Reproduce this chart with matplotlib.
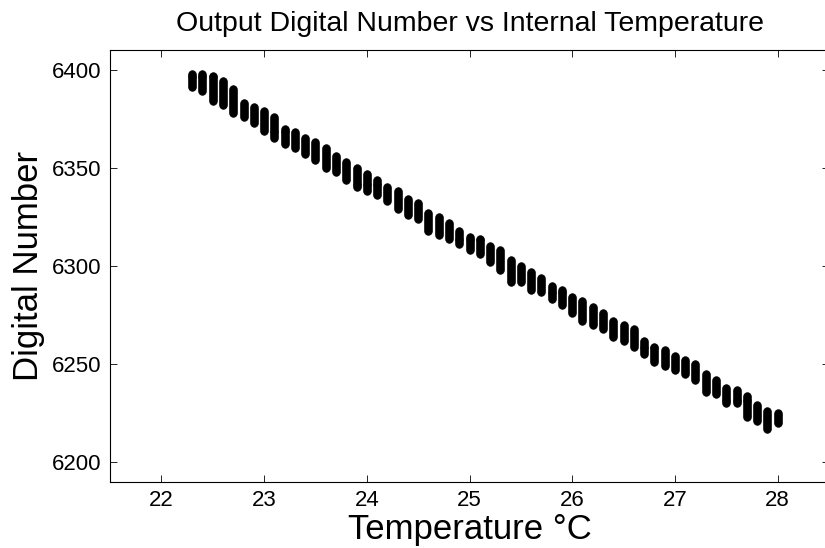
import numpy as np
import matplotlib.pyplot as plt

plt.rcParams['font.family'] = ['Liberation Sans', 'DejaVu Sans']

# temperature steps (deg C) and the range of digital numbers seen at each
temps = [22.3, 22.4, 22.5, 22.6, 22.7, 22.8, 22.9, 23.0, 23.1, 23.2,
         23.3, 23.4, 23.5, 23.6, 23.7, 23.8, 23.9, 24.0, 24.1, 24.2,
         24.3, 24.4, 24.5, 24.6, 24.7, 24.8, 24.9, 25.0, 25.1, 25.2,
         25.3, 25.4, 25.5, 25.6, 25.7, 25.8, 25.9, 26.0, 26.1, 26.2,
         26.3, 26.4, 26.5, 26.6, 26.7, 26.8, 26.9, 27.0, 27.1, 27.2,
         27.3, 27.4, 27.5, 27.6, 27.7, 27.8, 27.9, 28.0]
dn_low = [6391, 6389, 6384, 6382, 6378, 6376, 6373, 6369, 6365, 6362,
          6360, 6357, 6354, 6350, 6348, 6344, 6340, 6338, 6336, 6333,
          6329, 6326, 6324, 6318, 6316, 6314, 6311, 6308, 6306, 6302,
          6298, 6292, 6292, 6288, 6287, 6283, 6280, 6276, 6272, 6270,
          6268, 6264, 6262, 6259, 6255, 6251, 6249, 6247, 6245, 6242,
          6236, 6235, 6230, 6230, 6223, 6221, 6217, 6220]
dn_high = [6398, 6398, 6397, 6394, 6390, 6383, 6381, 6379, 6376, 6370,
           6368, 6365, 6363, 6360, 6356, 6353, 6350, 6347, 6344, 6340,
           6338, 6334, 6332, 6327, 6325, 6322, 6318, 6315, 6314, 6310,
           6308, 6303, 6300, 6297, 6294, 6290, 6288, 6284, 6282, 6279,
           6276, 6272, 6270, 6268, 6262, 6259, 6257, 6254, 6252, 6250,
           6245, 6242, 6238, 6237, 6234, 6229, 6226, 6225]

# one point per integer reading inside each range
xs, ys = [], []
for t, lo, hi in zip(temps, dn_low, dn_high):
    for d in range(lo, hi + 1):
        xs.append(t)
        ys.append(d)

fig = plt.figure(figsize=(8.25, 5.48), dpi=100)
# right edge of the axes sits just past the figure, like the original
ax = fig.add_axes((110/825, 66/548, 719/825, 432/548))

ax.plot(xs, ys, linestyle='none', marker='o', markersize=5.4,
        markerfacecolor='black', markeredgecolor='black', markeredgewidth=0.6)

ax.set_xlim(21.5, 28.5)
ax.set_ylim(6190, 6410)
ax.set_xticks([22, 23, 24, 25, 26, 27, 28])
ax.set_yticks([6200, 6250, 6300, 6350, 6400])

ax.tick_params(direction='in', length=5, width=0.6, top=True, right=True,
               labelsize=16, pad=6)
for s in ax.spines.values():
    s.set_linewidth(0.8)
ax.spines['right'].set_visible(False)

ax.set_title('Output Digital Number vs Internal Temperature', fontsize=20.5, pad=14)
ax.set_xlabel('Temperature °C', fontsize=25, labelpad=1)
ax.set_ylabel('Digital Number', fontsize=25, labelpad=5)

fig.savefig('out.png', dpi=100)
